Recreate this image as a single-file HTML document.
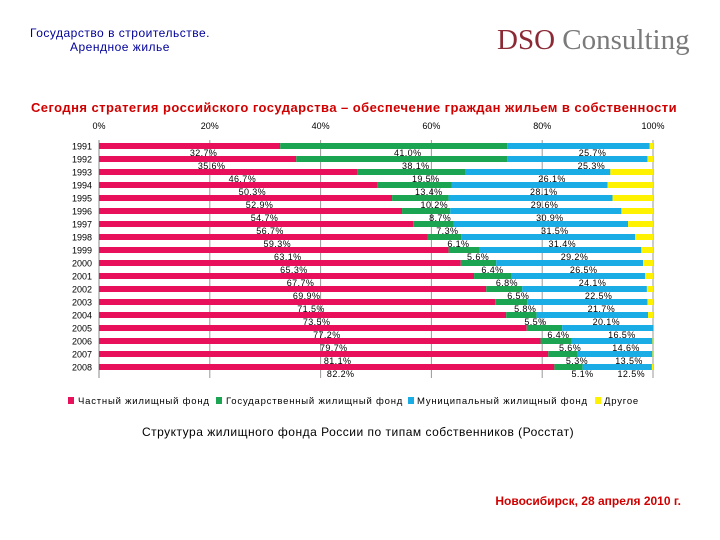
<!DOCTYPE html>
<html><head><meta charset="utf-8"><style>
body{margin:0;width:720px;height:540px;background:#fff;overflow:hidden;font-family:"Liberation Sans","DejaVu Sans",sans-serif}
svg{position:absolute;left:0;top:0}
</style></head><body>
<svg width="720" height="540">
<text x="30" y="37" font-size="12" letter-spacing="0.5" fill="#000099">Государство в строительстве.</text>
<text x="70" y="51" font-size="12" letter-spacing="0.5" fill="#000099">Арендное жилье</text>
<text x="497" y="49" font-family="Liberation Serif,serif" font-size="29"><tspan fill="#8B2A35">DSO</tspan><tspan fill="#7a7a7a"> Consulting</tspan></text>
<text x="354" y="112" font-size="13" font-weight="bold" letter-spacing="0.45" fill="#D00000" text-anchor="middle">Сегодня стратегия российского государства – обеспечение граждан жильем в собственности</text>
<g id="chart"></g>
<g font-size="9.5" letter-spacing="0.8" fill="#000">
<rect x="68" y="397" width="6" height="7" fill="#E8105A"/><text x="78" y="404">Частный жилищный фонд</text>
<rect x="216" y="397" width="6" height="7" fill="#1BA552"/><text x="226" y="404">Государственный жилищный фонд</text>
<rect x="408" y="397" width="6" height="7" fill="#1AADE5"/><text x="417" y="404">Муниципальный жилищный фонд</text>
<rect x="595" y="397" width="6" height="7" fill="#FFF200"/><text x="604" y="404">Другое</text>
</g>
<text x="358" y="436" font-size="12" letter-spacing="0.5" text-anchor="middle">Структура жилищного фонда России по типам собственников (Росстат)</text>
<text x="681" y="505" font-size="12" font-weight="bold" fill="#D00000" text-anchor="end">Новосибирск, 28 апреля 2010 г.</text>
</svg>
<script>
const years=["1991","1992","1993","1994","1995","1996","1997","1998","1999","2000","2001","2002","2003","2004","2005","2006","2007","2008"];
const privateVals=[32.7,35.6,46.7,50.3,52.9,54.7,56.7,59.3,63.1,65.3,67.7,69.9,71.5,73.5,77.2,79.7,81.1,82.2];
const stateVals=[41.0,38.1,19.5,13.4,10.2,8.7,7.3,6.1,5.6,6.4,6.8,6.5,5.8,5.5,6.4,5.6,5.3,5.1];
const muniVals=[25.7,25.3,26.1,28.1,29.6,30.9,31.5,31.4,29.2,26.5,24.1,22.5,21.7,20.1,16.5,14.6,13.5,12.5];
const ticks=["0%","20%","40%","60%","80%","100%"];
const NS="http://www.w3.org/2000/svg";
const g=document.getElementById('chart');
const x=v=>99+v*5.54;
const yc=i=>146+i*13;
function mk(t,a,p){const e=document.createElementNS(NS,t);for(const k in a)e.setAttribute(k,a[k]);(p||g).appendChild(e);return e;}
ticks.forEach((t,i)=>{
  const v=i*20;
  const l=mk('line',{x1:x(v),x2:x(v),y1:140,y2:378,stroke:i==0?'#888':'#999','stroke-width':1});
  
  
  const tx=mk('text',{x:x(v),y:129,'font-size':9,'text-anchor':'middle'});tx.textContent=t;
  
  
});
const colors=['#E8105A','#1BA552','#1AADE5','#FFF200'];
years.forEach((yr,i)=>{
  const other=Math.max(0,100-privateVals[i]-stateVals[i]-muniVals[i]);
  const vals=[privateVals[i],stateVals[i],muniVals[i],other];
  let c=0;
  const yl=mk('text',{x:92,y:yc(i)+3.5,'font-size':9,'text-anchor':'end'});yl.textContent=yr;
  
  
  vals.forEach((v,k)=>{
    const r=mk('rect',{x:x(c),y:yc(i)-3,width:Math.max(0,x(c+v)-x(c)),height:6,fill:colors[k]});
    
    
    if(k<3){
      const t=mk('text',{x:x(c+v/2)+14,y:yc(i)+10,'font-size':9,'letter-spacing':0.4,'text-anchor':'middle'});
      t.textContent=v.toFixed(1)+'%';
      
      
    }
    c+=v;
  });
});
</script>
</body></html>
